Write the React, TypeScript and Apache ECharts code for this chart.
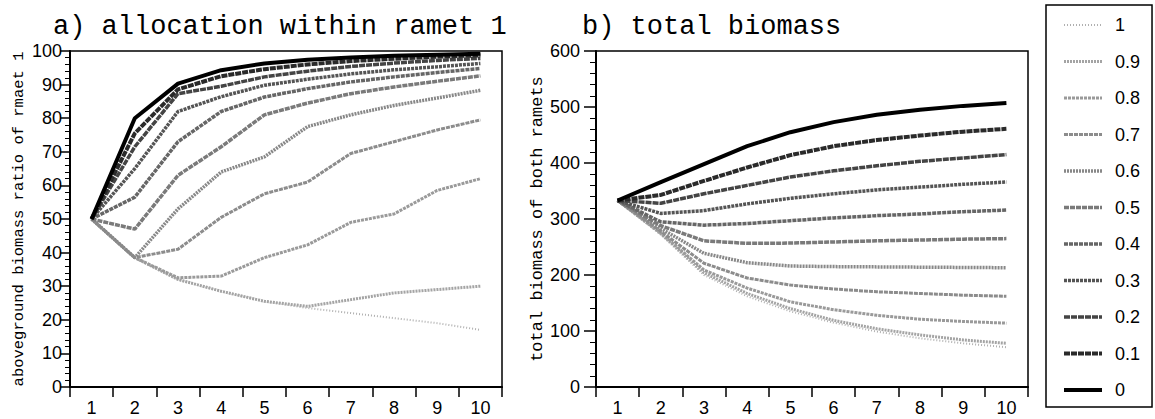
import React, { useEffect, useRef } from 'react';
import * as echarts from 'echarts';

// ---- data ----
const categories = ['1', '2', '3', '4', '5', '6', '7', '8', '9', '10'];
const levels = ['1', '0.9', '0.8', '0.7', '0.6', '0.5', '0.4', '0.3', '0.2', '0.1', '0'];

// a) aboveground biomass ratio of ramet 1
const alloc_10 = [50, 38.5, 32, 28.5, 25.5, 23.5, 22, 20.5, 19, 17];
const alloc_09 = [50, 38.5, 32, 28.5, 25.5, 24, 26, 28, 29, 30];
const alloc_08 = [50, 38.5, 32.5, 33, 38.5, 42.3, 49, 51.5, 58.5, 62];
const alloc_07 = [50, 38.5, 41, 50.5, 57.5, 61, 69.5, 73, 76.5, 79.5];
const alloc_06 = [50, 38.5, 53, 64, 68.5, 77.5, 81, 83.8, 86, 88.3];
const alloc_05 = [50, 47, 63, 71.5, 81, 84.5, 87.3, 89.3, 91, 92.6];
const alloc_04 = [50, 56.5, 73, 82, 86.3, 88.8, 90.8, 92.3, 93.6, 94.8];
const alloc_03 = [50, 65, 82, 86.4, 89.8, 91.6, 93.2, 94.4, 95.3, 96.3];
const alloc_02 = [50, 71.5, 87.3, 89.5, 92.3, 94, 95.4, 96.4, 97.2, 97.8];
const alloc_01 = [50, 75.5, 88.6, 92.5, 94.6, 96, 97, 97.7, 98.3, 98.7];
const alloc_00 = [50, 80, 90.3, 94.3, 96.3, 97.4, 98.1, 98.6, 98.9, 99.2];

// b) total biomass of both ramets
const bio_10 = [333, 272, 200, 162, 135, 115, 99, 87, 78, 71];
const bio_09 = [333, 274, 204, 167, 140, 119, 104, 93, 84, 78];
const bio_08 = [333, 275, 209, 176.6, 152, 138, 128, 121, 117, 114];
const bio_07 = [333, 278, 221, 194.6, 182, 175, 170, 167, 164, 162];
const bio_06 = [333, 283, 238.7, 222, 216, 215, 214.5, 214, 213.5, 213];
const bio_05 = [333, 288, 261, 256.5, 257, 259, 261, 262.5, 264, 265];
const bio_04 = [333, 295, 289, 292, 297, 302, 306, 309, 313, 316];
const bio_03 = [333, 310, 315, 327, 337, 345, 352, 357, 362, 366];
const bio_02 = [333, 328, 345, 360, 375, 386, 395, 403, 409, 415];
const bio_01 = [333, 343, 368, 392, 414, 430, 441, 449, 456, 461];
const bio_00 = [333, 366, 398, 430, 455, 473, 486, 495, 502, 507];

const allocation = [alloc_10, alloc_09, alloc_08, alloc_07, alloc_06, alloc_05, alloc_04, alloc_03, alloc_02, alloc_01, alloc_00];
const biomass = [bio_10, bio_09, bio_08, bio_07, bio_06, bio_05, bio_04, bio_03, bio_02, bio_01, bio_00];

// ---- styles ----
const lineStyles = [
  { color: '#b0b0b0', width: 2, type: [1, 2] },
  { color: '#a4a4a4', width: 3, type: [2, 1] },
  { color: '#9a9a9a', width: 3, type: [3, 1] },
  { color: '#8c8c8c', width: 3, type: [4, 1] },
  { color: '#888888', width: 3.5, type: [2, 1] },
  { color: '#7a7a7a', width: 3.5, type: [5, 1] },
  { color: '#666666', width: 3.5, type: [4, 1] },
  { color: '#555555', width: 3.5, type: [3, 1] },
  { color: '#444444', width: 3.5, type: [6, 1] },
  { color: '#2a2a2a', width: 4, type: [6, 1] },
  { color: '#000000', width: 4, type: 'solid' },
];

const NUM_FONT = '"Liberation Sans", Arial, sans-serif';
const MONO_FONT = '"Liberation Mono", "DejaVu Sans Mono", monospace';

export default function App() {
  const ref = useRef<HTMLDivElement>(null);
  useEffect(() => {
    if (!ref.current) return;
    const chart = echarts.init(ref.current, undefined, { renderer: 'svg' });
    const axisLine = { show: true, lineStyle: { color: '#000', width: 2 } };
    const xAxisBase = (gi: number) => ({
      type: 'category',
      gridIndex: gi,
      data: categories,
      boundaryGap: true,
      axisLine,
      axisTick: { show: true, length: 10, lineStyle: { color: '#000', width: 1.5 } },
      axisLabel: { color: '#000', fontSize: 18, fontFamily: NUM_FONT, margin: 12 },
      splitLine: { show: false },
    });
    const series: any[] = [];
    levels.forEach((name, i) => {
      series.push({
        name, type: 'line', xAxisIndex: 0, yAxisIndex: 0, data: allocation[i],
        symbol: 'none', lineStyle: lineStyles[i], itemStyle: { color: lineStyles[i].color },
      });
      series.push({
        name, type: 'line', xAxisIndex: 1, yAxisIndex: 1, data: biomass[i],
        symbol: 'none', lineStyle: lineStyles[i], itemStyle: { color: lineStyles[i].color },
      });
    });
    chart.setOption({
      animation: false,
      backgroundColor: '#fff',
      title: [
        { text: 'a) allocation within ramet 1', left: 48, top: 8, textStyle: { fontFamily: MONO_FONT, fontSize: 27, fontWeight: 'normal', color: '#000' } },
        { text: 'b) total biomass', left: 577, top: 8, textStyle: { fontFamily: MONO_FONT, fontSize: 27, fontWeight: 'normal', color: '#000' } },
      ],
      grid: [
        { left: 70, top: 51, width: 432, height: 336, show: true, borderColor: '#000', borderWidth: 1.5, backgroundColor: 'transparent' },
        { left: 596, top: 51, width: 432, height: 336, show: true, borderColor: '#000', borderWidth: 1.5, backgroundColor: 'transparent' },
      ],
      xAxis: [xAxisBase(0), xAxisBase(1)],
      yAxis: [
        {
          type: 'value', gridIndex: 0, min: 0, max: 100, interval: 10,
          name: 'aboveground biomass ratio of rmaet 1', nameLocation: 'middle', nameGap: 43,
          nameTextStyle: { fontFamily: MONO_FONT, fontSize: 15.5, color: '#000' },
          axisLine,
          axisTick: { show: true, length: 10, lineStyle: { color: '#000', width: 1.5 } },
          minorTick: { show: true, splitNumber: 5, length: 5, lineStyle: { color: '#000', width: 1 } },
          splitLine: { show: false },
          axisLabel: { color: '#000', fontSize: 18, fontFamily: NUM_FONT, margin: 8 },
        },
        {
          type: 'value', gridIndex: 1, min: 0, max: 600, interval: 100,
          name: 'total biomass of both ramets', nameLocation: 'middle', nameGap: 48,
          nameTextStyle: { fontFamily: MONO_FONT, fontSize: 17, color: '#000' },
          axisLine,
          axisTick: { show: true, length: 12, lineStyle: { color: '#000', width: 1.5 } },
          minorTick: { show: true, splitNumber: 5, length: 6, lineStyle: { color: '#000', width: 1 } },
          splitLine: { show: false },
          axisLabel: { color: '#000', fontSize: 18, fontFamily: NUM_FONT, margin: 16 },
        },
      ],
      legend: {
        orient: 'vertical',
        left: 1046,
        top: 5,
        height: 400,
        data: levels,
        itemWidth: 38,
        itemHeight: 18,
        itemGap: 18.5,
        padding: [11, 12, 8, 16],
        borderColor: '#000',
        borderWidth: 1.5,
        backgroundColor: '#fff',
        selectedMode: false,
        itemStyle: { opacity: 0 },
        lineStyle: { width: 'inherit', type: 'inherit' },
        textStyle: { color: '#000', fontSize: 18, fontFamily: NUM_FONT, padding: [0, 0, 0, 8] },
      },
      series,
    });
    return () => chart.dispose();
  }, []);
  return <div ref={ref} style={{ position: 'fixed', left: 0, top: 0, width: 1155, height: 419 }} />;
}
